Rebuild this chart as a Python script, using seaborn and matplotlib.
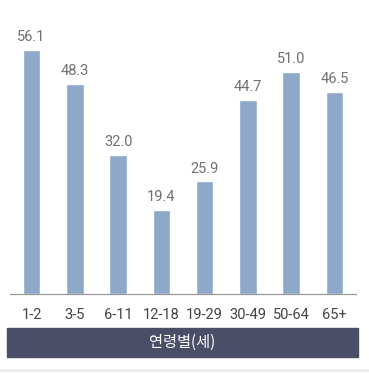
import matplotlib
matplotlib.use("Agg")
import matplotlib.pyplot as plt
import seaborn as sns
import pandas as pd
from matplotlib.patches import Rectangle
from matplotlib.lines import Line2D

# Data
AGE_GROUPS = ["1-2", "3-5", "6-11", "12-18", "19-29", "30-49", "50-64", "65+"]
VALUES = [56.1, 48.3, 32.0, 19.4, 25.9, 44.7, 51.0, 46.5]
AXIS_TITLE = "연령별(세)"

BAR_COLOR = "#8da8c8"
BANNER_COLOR = "#4a4e66"

sns.set_theme(style="white")
plt.rcParams["font.family"] = ["Roboto", "Noto Sans CJK KR", "DejaVu Sans"]

W, H = 369, 373
fig = plt.figure(figsize=(W / 100, H / 100), dpi=100)
ax = fig.add_axes([10 / W, 79 / H, 346 / W, 261 / H])

df = pd.DataFrame({"age": AGE_GROUPS, "value": VALUES})
sns.barplot(data=df, x="age", y="value", color=BAR_COLOR, width=0.4,
            saturation=1, ax=ax)

for i, v in enumerate(VALUES):
    ax.text(i, v + 1.3, f"{v:.1f}", ha="center", va="bottom",
            fontsize=10.5, color="#707070")

ax.set_xlim(-0.5, 7.5)
ax.set_ylim(0, 60)
ax.set_yticks([])
ax.set_xlabel("")
ax.set_ylabel("")
for s in ["top", "right", "left"]:
    ax.spines[s].set_visible(False)
ax.spines["bottom"].set_color("#999999")
ax.spines["bottom"].set_linewidth(0.9)
ax.tick_params(axis="x", length=0, pad=10, labelsize=10.5, labelcolor="#444444")

# banner
fig.patches.append(Rectangle((7 / W, 16 / H), 351 / W, 29 / H,
                             transform=fig.transFigure, color=BANNER_COLOR))
fig.text(182 / W, 30.5 / H, AXIS_TITLE, ha="center", va="center",
         color="white", fontsize=11, fontweight="medium",
         family=["Noto Sans CJK KR", "DejaVu Sans"])

# light bottom rule
fig.lines.append(Line2D([0, 1], [3 / H, 3 / H], transform=fig.transFigure,
                        color="#eeeeee", linewidth=2))

fig.savefig("out.png", dpi=100)
